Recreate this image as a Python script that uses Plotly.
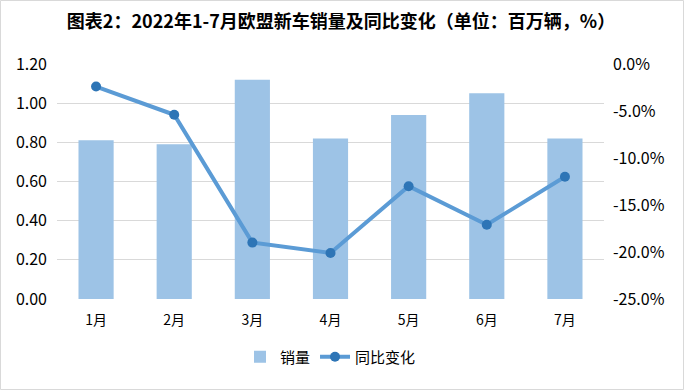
import plotly.graph_objects as go

months = ["1月", "2月", "3月", "4月", "5月", "6月", "7月"]
sales = [0.81, 0.79, 1.12, 0.82, 0.94, 1.05, 0.82]
yoy = [-2.4, -5.4, -19.0, -20.1, -13.0, -17.1, -12.0]
left_ticks = [0, 0.2, 0.4, 0.6, 0.8, 1.0, 1.2]
right_ticks = [-25, -20, -15, -10, -5, 0]
right_labels = ["-25.0%", "-20.0%", "-15.0%", "-10.0%", "-5.0%", "0.0%"]

W, H = 684, 390
ml, mr, mt, mb = 57, 80, 64, 91
pw, ph = W - ml - mr, H - mt - mb

fig = go.Figure()
fig.add_trace(go.Bar(x=months, y=sales, name="销量", marker=dict(color="#9dc3e6", line=dict(width=0)),
                     width=0.45, yaxis="y"))
fig.add_trace(go.Scatter(x=months, y=yoy, name="同比变化", mode="lines+markers", yaxis="y2",
                         line=dict(color="#5b9bd5", width=4),
                         marker=dict(color="#2e75b6", size=10)))

font_family = "Noto Sans CJK SC, Noto Sans, sans-serif"
fig.update_layout(
    width=W, height=H,
    margin=dict(l=ml, r=mr, t=mt, b=mb),
    paper_bgcolor="white", plot_bgcolor="white",
    font=dict(family=font_family, size=14, color="#000000"),
    title=dict(text="<b>图表2：2022年1-7月欧盟新车销量及同比变化（单位：百万辆，%）</b>",
               x=341 / W, xanchor="center", y=1 - 22 / H, yanchor="middle",
               font=dict(size=18, color="#000000", family=font_family)),
    xaxis=dict(type="category", showgrid=False, showline=False, ticks="",
               tickfont=dict(size=14), range=[-0.5, 6.5], ticklabelstandoff=11, automargin=False),
    yaxis=dict(range=[0, 1.2], tickvals=left_ticks, tickformat=".2f",
               showgrid=True, gridcolor="#d9d9d9", gridwidth=1, zeroline=False,
               showline=False, ticks="", ticklabelstandoff=9, tickfont=dict(size=16), automargin=False),
    yaxis2=dict(range=[-25, 0], tickvals=right_ticks, ticktext=right_labels,
                overlaying="y", side="right", showgrid=False, zeroline=False,
                showline=False, ticks="", ticklabelstandoff=8, tickfont=dict(size=16), automargin=False),
    legend=dict(orientation="h", x=0.5, xanchor="center", y=-(357 - mt - ph) / ph, yanchor="middle",
                font=dict(size=15), traceorder="normal"),
    shapes=[dict(type="rect", xref="paper", yref="paper",
                 x0=-(ml - 0.5) / pw, x1=(W - ml - 0.5) / pw,
                 y0=-(mb - 0.5) / ph, y1=1 + (mt - 0.5) / ph,
                 line=dict(color="#d9d9d9", width=1), fillcolor="rgba(0,0,0,0)", layer="below")],
)

fig.write_html("out.html", config={"displayModeBar": False},
               post_script="document.body.style.margin='0';")
